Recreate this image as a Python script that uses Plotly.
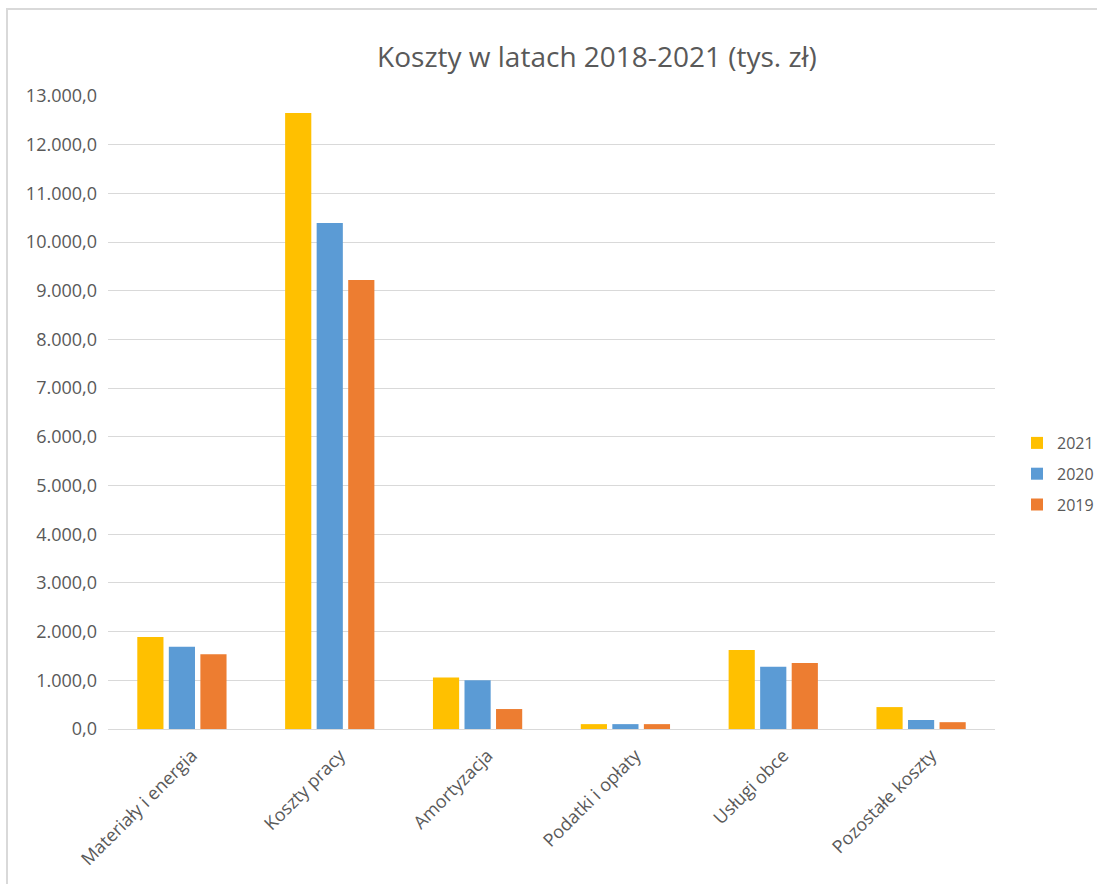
import plotly.graph_objects as go

categories = ["Materiały i energia", "Koszty pracy", "Amortyzacja", "Podatki i opłaty", "Usługi obce", "Pozostałe koszty"]
years = ["2021", "2020", "2019"]
values_2021 = [1890, 12650, 1060, 100, 1620, 450]
values_2020 = [1690, 10390, 1000, 100, 1280, 185]
values_2019 = [1535, 9220, 410, 100, 1355, 140]
colors = ["#FFC000", "#5B9BD5", "#ED7D31"]

series = [values_2021, values_2020, values_2019]

fig = go.Figure()
for name, vals, col in zip(years, series, colors):
    fig.add_trace(go.Bar(name=name, x=categories, y=vals, legendgroup=name,
                         marker=dict(color=col, line=dict(width=0))))

font_family = "Open Sans, Liberation Sans, sans-serif"
W, H = 1097, 884
L, R, T, B = 108, 102, 96, 155
pw, ph = W - L - R, H - T - B

def px_x(x):
    return (x - L) / pw

def px_y(y):
    return (H - B - y) / ph

fig.update_layout(
    width=W, height=H,
    margin=dict(l=L, r=R, t=T, b=B, autoexpand=False),
    paper_bgcolor="white", plot_bgcolor="white",
    barmode="group", bargap=0.36, bargroupgap=0.17,
    separators=",.",
    font=dict(family=font_family, color="#595959", size=18),
    title=dict(text="Koszty w latach 2018-2021 (tys. zł)", x=597 / W, xref="container",
               xanchor="center", y=1 - 57 / H, yanchor="middle", font=dict(size=28, color="#595959")),
    legend=dict(x=px_x(1017), y=px_y(474), xanchor="left", yanchor="middle",
                traceorder="grouped", tracegroupgap=7,
                font=dict(size=16, color="#595959"), itemwidth=30),
    xaxis=dict(tickangle=-45, showline=True, linecolor="#d9d9d9", linewidth=1,
               ticks="", tickfont=dict(size=18, color="#595959"), showgrid=False,
               ticklabelshift=10, ticklabelstandoff=8),
    yaxis=dict(range=[0, 13000], dtick=1000, tickformat=",.1f", showgrid=True,
               gridcolor="#d9d9d9", gridwidth=1, zeroline=False, ticks="",
               ticklabelstandoff=10,
               tickfont=dict(size=18, color="#595959")),
    shapes=[dict(type="rect", xref="paper", yref="paper",
                 x0=px_x(7), x1=px_x(1200), y0=px_y(1000), y1=px_y(9),
                 line=dict(color="#d9d9d9", width=2), fillcolor="rgba(0,0,0,0)", layer="below")],
)

fig.write_html("out.html")
